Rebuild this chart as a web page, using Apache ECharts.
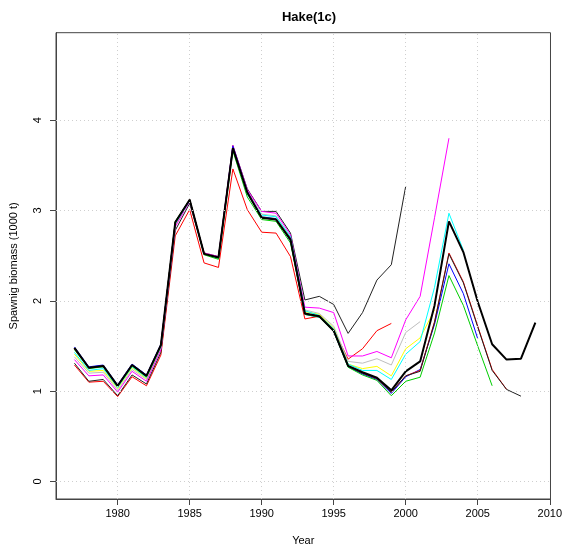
<!DOCTYPE html>
<html>
<head>
<meta charset="utf-8">
<script src="https://cdn.jsdelivr.net/npm/echarts@6/dist/echarts.min.js"></script>
<style>
html,body{margin:0;padding:0;background:#fff;}
#chart{width:565px;height:551px;}
</style>
</head>
<body>
<div id="chart"></div>
<script>
// ---- data ----
const years = [1977,1978,1979,1980,1981,1982,1983,1984,1985,1986,1987,1988,1989,1990,1991,1992,1993,1994,1995,1996,1997,1998,1999,2000,2001,2002,2003,2004,2005,2006,2007,2008,2009];
const xTicks = [1980,1985,1990,1995,2000,2005,2010];
const yTicks = [0,1,2,3,4];

const run2009 = [1.48,1.26,1.28,1.06,1.29,1.17,1.51,2.87,3.12,2.52,2.48,3.69,3.20,2.92,2.90,2.68,1.86,1.83,1.67,1.28,1.21,1.15,1.01,1.22,1.33,1.95,2.88,2.54,1.99,1.52,1.35,1.36,1.76];
const run2008 = [1.47,1.26,1.28,1.06,1.29,1.17,1.51,2.87,3.12,2.52,2.48,3.69,3.20,2.92,2.90,2.67,1.86,1.83,1.67,1.28,1.20,1.14,0.99,1.17,1.22,1.76,2.52,2.20,1.71,1.23,1.02,0.945];
const run2007 = [1.47,1.26,1.28,1.06,1.29,1.17,1.51,2.87,3.12,2.52,2.48,3.69,3.20,2.92,2.90,2.67,1.86,1.83,1.67,1.28,1.20,1.14,0.99,1.17,1.23,1.77,2.53,2.21,1.72,1.24,1.02];
const run2006 = [1.46,1.25,1.27,1.05,1.28,1.16,1.50,2.88,3.12,2.51,2.46,3.66,3.15,2.90,2.88,2.64,1.85,1.82,1.66,1.265,1.18,1.12,0.95,1.11,1.155,1.645,2.28,1.95,1.50,1.06];
const run2005 = [1.49,1.27,1.29,1.07,1.30,1.18,1.52,2.86,3.12,2.52,2.48,3.71,3.21,2.93,2.91,2.66,1.85,1.82,1.66,1.27,1.19,1.13,0.975,1.16,1.24,1.74,2.41,2.08,1.58];
const run2004 = [1.43,1.23,1.25,1.04,1.27,1.15,1.49,2.85,3.11,2.52,2.47,3.68,3.18,2.95,2.93,2.71,1.89,1.84,1.69,1.30,1.23,1.23,1.13,1.41,1.55,2.15,2.97,2.56];
const run2003 = [1.35,1.17,1.18,0.99,1.22,1.11,1.46,2.82,3.10,2.53,2.49,3.72,3.23,2.99,2.97,2.73,1.93,1.92,1.87,1.39,1.39,1.44,1.37,1.79,2.05,2.92,3.80];
const run2002 = [1.41,1.22,1.23,1.03,1.26,1.14,1.48,2.84,3.11,2.53,2.48,3.69,3.20,2.93,2.91,2.69,1.88,1.85,1.70,1.30,1.25,1.275,1.17,1.47,1.59,1.90];
const run2001 = [1.38,1.20,1.21,1.01,1.24,1.13,1.47,2.83,3.11,2.53,2.48,3.70,3.22,2.96,2.94,2.70,1.90,1.86,1.72,1.33,1.31,1.36,1.29,1.65,1.77];
const run2000 = [1.31,1.11,1.13,0.95,1.18,1.08,1.43,2.78,3.08,2.53,2.49,3.72,3.24,2.99,2.99,2.75,2.01,2.05,1.96,1.64,1.87,2.23,2.40,3.27];
const run1999 = [1.29,1.10,1.11,0.94,1.16,1.06,1.40,2.72,3.01,2.42,2.37,3.46,3.01,2.76,2.75,2.49,1.80,1.83,1.68,1.355,1.47,1.67,1.75];

const retroRuns = [
  {data: run1999, color: '#FF0000'},
  {data: run2000, color: '#222222'},
  {data: run2001, color: '#BEBEBE'},
  {data: run2002, color: '#FFFF00'},
  {data: run2003, color: '#FF00FF'},
  {data: run2004, color: '#00FFFF'},
  {data: run2005, color: '#0000FF'},
  {data: run2006, color: '#00CD00'},
  {data: run2007, color: '#FF0000'},
  {data: run2008, color: '#222222'}
];

function pairs(arr){ return arr.map((v,i)=>[years[i], v]); }

const FONT = '"Liberation Sans", Arial, Helvetica, sans-serif';
const series = [];
// grid lines (dotted reference lines at tick positions)
series.push({
  type: 'line', data: [], silent: true, z: 1,
  markLine: {
    silent: true, symbol: ['none','none'], label: {show:false},
    lineStyle: {color:'#cfcfcf', type:[1,3], width:1},
    animation: false,
    data: xTicks.filter(v=>v<2010).map(v=>({xAxis: v})).concat(yTicks.map(v=>({yAxis: v})))
  }
});
retroRuns.forEach(r => series.push({
  type:'line', data: pairs(r.data), showSymbol:false, symbol:'none',
  lineStyle:{color:r.color, width:1}, itemStyle:{color:r.color}, z:2, animation:false
}));
series.push({
  type:'line', data: pairs(run2009), showSymbol:false, symbol:'none',
  lineStyle:{color:'#000', width:2}, itemStyle:{color:'#000'}, z:3, animation:false
});

const chart = echarts.init(document.getElementById('chart'), null, {renderer:'canvas'});
chart.setOption({
  backgroundColor:'#fff',
  animation:false,
  title:{
    text:'Hake(1c)', left:304, top:6, textAlign:'center',
    textStyle:{fontFamily:FONT, fontSize:13, fontWeight:'bold', color:'#000'}
  },
  grid:{left:52.7, right:10, top:32.7, bottom:46, show:true, borderColor:'#444', borderWidth:1, backgroundColor:'transparent'},
  xAxis:{
    type:'value', min:1975.72, max:2010.05,
    name:'Year', nameLocation:'middle', nameGap:36,
    nameTextStyle:{fontFamily:FONT, fontSize:11, color:'#000'},
    axisLine:{show:true, onZero:false, lineStyle:{color:'#444'}},
    axisTick:{show:true, length:6, customValues:xTicks, lineStyle:{color:'#444'}},
    axisLabel:{customValues:xTicks, formatter:(v)=>String(v), fontFamily:FONT, fontSize:11, color:'#000', margin:9},
    splitLine:{show:false}
  },
  yAxis:{
    type:'value', min:-0.193, max:4.968,
    name:'Spawnig biomass (1000 t)', nameLocation:'middle', nameGap:37, nameRotate:90,
    nameTextStyle:{fontFamily:FONT, fontSize:11, color:'#000'},
    axisLine:{show:true, onZero:false, lineStyle:{color:'#444'}},
    axisTick:{show:true, length:6, customValues:yTicks, lineStyle:{color:'#444'}},
    axisLabel:{customValues:yTicks, formatter:(v)=>String(v), rotate:90, fontFamily:FONT, fontSize:11, color:'#000', margin:13},
    splitLine:{show:false}
  },
  series: series
});
</script>
</body>
</html>
